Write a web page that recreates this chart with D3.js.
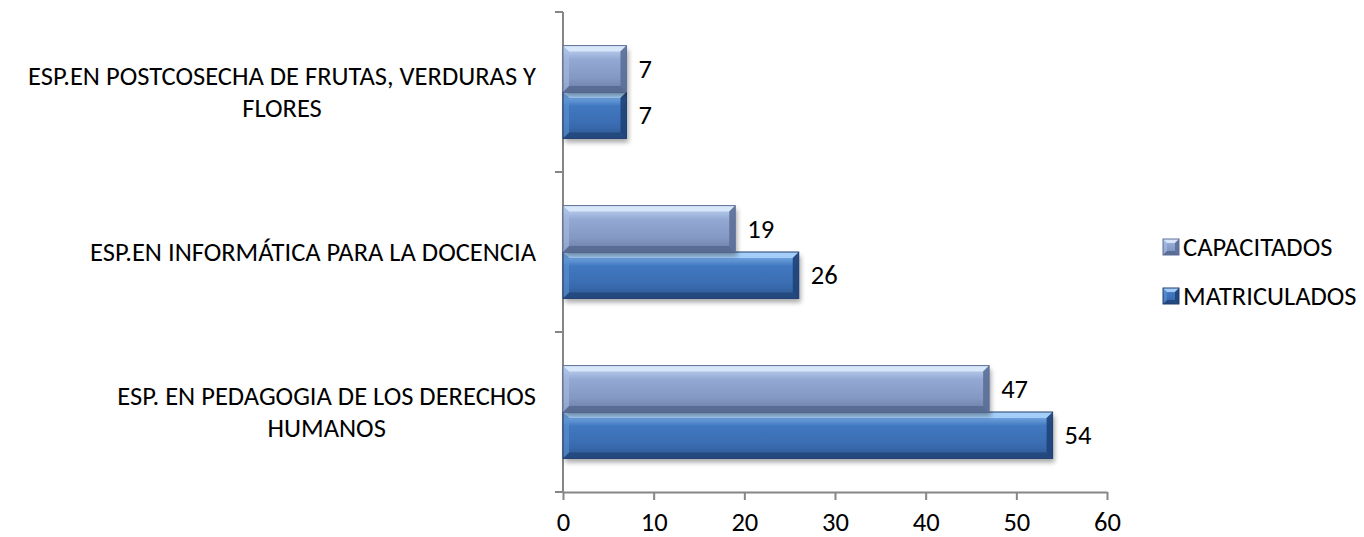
<!DOCTYPE html>
<html>
<head>
<meta charset="utf-8">
<script src="https://cdn.jsdelivr.net/npm/d3@7"></script>
<style>
  html, body { margin: 0; padding: 0; background: #ffffff; }
  svg { display: block; }
  text { font-family: Carlito, Calibri, Lato, "Liberation Sans", sans-serif; fill: #000; }
</style>
</head>
<body>
<svg id="chart" width="1364" height="537"></svg>
<script>
const categories = [
  "ESP.EN POSTCOSECHA DE FRUTAS, VERDURAS Y FLORES",
  "ESP.EN INFORMÁTICA PARA LA DOCENCIA",
  "ESP. EN PEDAGOGIA DE LOS DERECHOS HUMANOS"
];
const seriesNames = ["CAPACITADOS", "MATRICULADOS"];
const capacitados = [7, 19, 47];
const matriculados = [7, 26, 54];
const xTicks = [0, 10, 20, 30, 40, 50, 60];

const svg = d3.select("#chart");
const W = 1364, H = 537;
const m = { left: 563, right: 1364 - 1107, top: 12, bottom: 537 - 492 };
const FS = 26.5;

const x = d3.scaleLinear().domain([0, 60]).range([m.left, W - m.right]);
const y0 = d3.scaleBand().domain(categories).range([m.top, H - m.bottom])
  .paddingInner(0.42).paddingOuter(0.21);
const y1 = d3.scaleBand().domain(seriesNames).range([0, y0.bandwidth()]);

const styles = {
  "CAPACITADOS": { base: ["#c3d8f3", "#93a9d3", "#8398c2", "#6a7ca5"], top: "#dbe9fb", bottom: "#55688f", left: "#a9bde2", right: "#5c6f98", stroke: "#5d6f95" },
  "MATRICULADOS": { base: ["#8fc1f3", "#4178c0", "#3a6cb1", "#2d5890"], top: "#a8d2fb", bottom: "#22457a", left: "#5e92d4", right: "#1f4379", stroke: "#1f3f6e" }
};

const defs = svg.append("defs");
const sh = defs.append("filter").attr("id", "shadow").attr("x", "-5%").attr("y", "-20%").attr("width", "115%").attr("height", "160%");
sh.append("feGaussianBlur").attr("in", "SourceAlpha").attr("stdDeviation", 2.5);
sh.append("feOffset").attr("dx", 2).attr("dy", 4).attr("result", "b");
sh.append("feComponentTransfer").append("feFuncA").attr("type", "linear").attr("slope", 0.35);
const mg = sh.append("feMerge");
mg.append("feMergeNode");
mg.append("feMergeNode").attr("in", "SourceGraphic");

seriesNames.forEach((s, i) => {
  const g = defs.append("linearGradient").attr("id", "grad" + i).attr("x1", 0).attr("y1", 0).attr("x2", 0).attr("y2", 1);
  const c = styles[s].base;
  g.append("stop").attr("offset", "0%").attr("stop-color", c[0]);
  g.append("stop").attr("offset", "30%").attr("stop-color", c[1]);
  g.append("stop").attr("offset", "70%").attr("stop-color", c[2]);
  g.append("stop").attr("offset", "100%").attr("stop-color", c[3]);
});

// Axes
const axisColor = "#868686";
const yAxisG = svg.append("g");
yAxisG.append("line").attr("x1", x(0)).attr("x2", x(0)).attr("y1", m.top).attr("y2", H - m.bottom)
  .attr("stroke", axisColor).attr("stroke-width", 2);
const yTickPos = [m.top].concat(categories.map(c => y0(c) - y0.step() * y0.paddingInner() / 2 + y0.step()));
yTickPos.forEach(p => {
  yAxisG.append("line").attr("x1", x(0) - 8).attr("x2", x(0)).attr("y1", p).attr("y2", p)
    .attr("stroke", axisColor).attr("stroke-width", 2);
});

const xAxis = d3.axisBottom(x).tickValues(xTicks).tickSize(8).tickSizeOuter(0);
const xg = svg.append("g").attr("transform", `translate(0,${H - m.bottom})`).call(xAxis);
xg.select(".domain").attr("stroke", axisColor).attr("stroke-width", 2);
xg.selectAll(".tick line").attr("stroke", axisColor).attr("stroke-width", 2);
xg.selectAll(".tick text").attr("font-size", FS).attr("y", 30).attr("dy", "0.35em")
  .style("font-family", "Carlito, Calibri, Lato, 'Liberation Sans', sans-serif").attr("fill", "#000");

// Bars
const data = categories.map((c, i) => ({ cat: c, vals: [capacitados[i], matriculados[i]] }));
const bev = 6;
function drawBar(g, x0, x1, yt, h, st, gi, b0) {
  const w = x1 - x0;
  const b = Math.min(b0 || bev, w / 2, h / 2);
  g.append("rect").attr("x", x0).attr("y", yt).attr("width", w).attr("height", h)
    .attr("fill", `url(#grad${gi})`).attr("filter", "url(#shadow)");
  const pts = (arr) => arr.map(p => p.join(",")).join(" ");
  g.append("polygon").attr("points", pts([[x0, yt], [x1, yt], [x1 - b, yt + b], [x0 + b, yt + b]])).attr("fill", st.top).attr("opacity", 0.9);
  g.append("polygon").attr("points", pts([[x0, yt + h], [x1, yt + h], [x1 - b, yt + h - b], [x0 + b, yt + h - b]])).attr("fill", st.bottom).attr("opacity", 0.85);
  g.append("polygon").attr("points", pts([[x0, yt], [x0 + b, yt + b], [x0 + b, yt + h - b], [x0, yt + h]])).attr("fill", st.left).attr("opacity", 0.6);
  g.append("polygon").attr("points", pts([[x1, yt], [x1 - b, yt + b], [x1 - b, yt + h - b], [x1, yt + h]])).attr("fill", st.right).attr("opacity", 0.9);
  g.append("rect").attr("x", x0).attr("y", yt).attr("width", w).attr("height", h)
    .attr("fill", "none").attr("stroke", st.stroke).attr("stroke-width", 1);
}

const groups = svg.append("g").selectAll("g.cat").data(data).join("g")
  .attr("class", "cat").attr("transform", d => `translate(0,${y0(d.cat)})`);
groups.each(function (d) {
  const g = d3.select(this);
  [1, 0].forEach(si => {
    const s = seriesNames[si];
    drawBar(g, x(0), x(d.vals[si]), y1(s), y1.bandwidth(), styles[s], si);
  });
  seriesNames.forEach((s, si) => {
    g.append("text").attr("x", x(d.vals[si]) + 12).attr("y", y1(s) + y1.bandwidth() / 2)
      .attr("dy", "0.35em").attr("font-size", FS).text(d.vals[si]);
  });
});

// Category labels (wrapped, centered lines, block right aligned)
const labelRight = 536;
const lineH = 32;
const maxW = 535;
categories.forEach(c => {
  const t = svg.append("text").attr("font-size", FS).attr("text-anchor", "middle");
  const words = c.split(" ");
  const lines = [];
  let cur = [];
  words.forEach(wd => {
    const test = cur.concat([wd]).join(" ");
    t.text(test);
    if (t.node().getComputedTextLength() > maxW && cur.length) {
      lines.push(cur.join(" "));
      cur = [wd];
    } else cur.push(wd);
  });
  lines.push(cur.join(" "));
  t.text(null);
  let bw = 0;
  lines.forEach(l => {
    const tmp = svg.append("text").attr("font-size", FS).text(l);
    bw = Math.max(bw, tmp.node().getComputedTextLength());
    tmp.remove();
  });
  const cx = labelRight - bw / 2;
  const cy = y0(c) + y0.bandwidth() / 2;
  lines.forEach((l, i) => {
    t.append("tspan").attr("x", cx).attr("y", cy + (i - (lines.length - 1) / 2) * lineH)
      .attr("dy", "0.35em").text(l);
  });
});

// Legend
const legend = svg.append("g").attr("transform", "translate(1163,239)");
seriesNames.forEach((s, i) => {
  const g = legend.append("g").attr("transform", `translate(0,${i * 49})`);
  drawBar(g, 0, 16, 0, 16, Object.assign({}, styles[s]), i, 4);
  g.select("rect").attr("filter", null);
  g.append("text").attr("x", 20).attr("y", 8).attr("dy", "0.35em").attr("font-size", FS).text(s);
});
</script>
</body>
</html>
